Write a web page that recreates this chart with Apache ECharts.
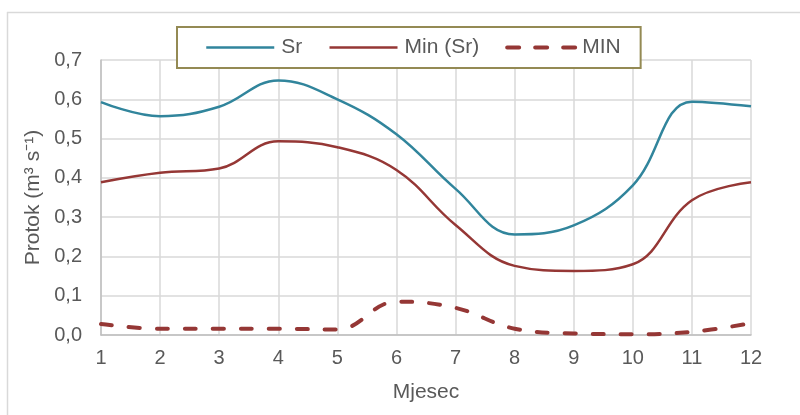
<!DOCTYPE html>
<html>
<head>
<meta charset="utf-8">
<script src="https://cdn.jsdelivr.net/npm/echarts@6/dist/echarts.min.js"></script>
<style>html,body{margin:0;padding:0;background:#fff}#c{width:800px;height:415px}</style>
</head>
<body>
<div id="c"></div>
<script>
var months = ['1','2','3','4','5','6','7','8','9','10','11','12'];
var yTicks = ['0,0','0,1','0,2','0,3','0,4','0,5','0,6','0,7'];
var srValues = [0.593, 0.557, 0.581, 0.648, 0.600, 0.511, 0.372, 0.256, 0.279, 0.381, 0.594, 0.582];
var minSrValues = [0.389, 0.413, 0.424, 0.493, 0.478, 0.420, 0.280, 0.176, 0.163, 0.180, 0.343, 0.389];
var minValues = [0.028, 0.016, 0.016, 0.016, 0.014, 0.085, 0.069, 0.016, 0.004, 0.002, 0.008, 0.030];

var font = 'Liberation Sans, Arial, sans-serif';
var txt = '#595959';
var chart = echarts.init(document.getElementById('c'), null, {renderer: 'canvas'});
chart.setOption({
  animation: false,
  backgroundColor: '#fff',
  grid: {left: 101, right: 49, top: 60, bottom: 80},
  graphic: [
    {type: 'line', shape: {x1: 7.5, y1: 12, x2: 7.5, y2: 415}, style: {stroke: '#D9D9D9', lineWidth: 1.5}},
    {type: 'line', shape: {x1: 7, y1: 12.5, x2: 800, y2: 12.5}, style: {stroke: '#D9D9D9', lineWidth: 1.5}}
  ],
  legend: {
    left: 177, top: 27,
    padding: [10, 20, 10, 28],
    itemGap: 26,
    itemWidth: 68, itemHeight: 20,
    borderColor: '#948A54', borderWidth: 2,
    backgroundColor: '#fff',
    itemStyle: {opacity: 0},
    textStyle: {fontFamily: font, fontSize: 21, color: txt, padding: [0, 0, 0, 2]},
    data: [
      {name: 'Sr', lineStyle: {width: 2.5}},
      {name: 'Min (Sr)', lineStyle: {width: 2.5}},
      {name: 'MIN', lineStyle: {width: 4, type: [12, 16], cap: 'round'}}
    ]
  },
  xAxis: {
    type: 'category', data: months, boundaryGap: false,
    name: 'Mjesec', nameLocation: 'middle', nameGap: 47,
    nameTextStyle: {fontFamily: font, fontSize: 21, color: txt},
    axisLine: {lineStyle: {color: '#BFBFBF', width: 1.5}},
    axisTick: {show: false},
    axisLabel: {fontFamily: font, fontSize: 20, color: txt, margin: 13},
    splitLine: {show: true, lineStyle: {color: '#D9D9D9', width: 1.5}}
  },
  yAxis: {
    type: 'value', min: 0, max: 0.7, interval: 0.1,
    name: 'Protok (m³ s⁻¹)', nameLocation: 'middle', nameGap: 53, nameRotate: 90,
    nameTextStyle: {fontFamily: font, fontSize: 21, color: txt},
    axisLine: {show: true, lineStyle: {color: '#BFBFBF', width: 1.5}},
    axisTick: {show: false},
    axisLabel: {fontFamily: font, fontSize: 20, color: txt, margin: 19,
      formatter: function (v) { return yTicks[Math.round(v * 10)]; }},
    splitLine: {show: true, lineStyle: {color: '#D9D9D9', width: 1.5}}
  },
  series: [
    {name: 'Sr', type: 'line', data: srValues, smooth: 0.4, symbol: 'none',
     itemStyle: {color: '#31859C'}, lineStyle: {color: '#31859C', width: 2.5}},
    {name: 'Min (Sr)', type: 'line', data: minSrValues, smooth: 0.4, symbol: 'none',
     itemStyle: {color: '#953735'}, lineStyle: {color: '#953735', width: 2.5}},
    {name: 'MIN', type: 'line', data: minValues, smooth: 0.4, symbol: 'none',
     itemStyle: {color: '#953735'}, lineStyle: {color: '#953735', width: 4, type: [11, 17], cap: 'round'}}
  ]
});
</script>
</body>
</html>
